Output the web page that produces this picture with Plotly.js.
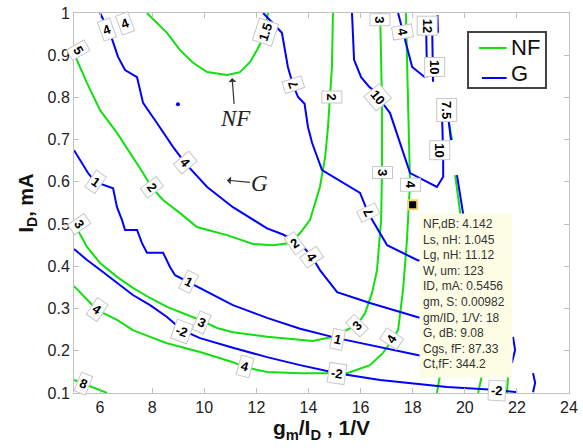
<!DOCTYPE html>
<html><head><meta charset="utf-8">
<script src="https://cdn.plot.ly/plotly-3.0.1.min.js"></script>
<style>html,body{margin:0;padding:0;background:#fff}#chart{width:583px;height:448px}</style>
</head><body><div id="chart"></div>
<script>
// ---------- NF contour lines (green) ----------
const nf15X=[7.80,8.57,9.07,9.57,10.11,10.87,11.37,11.76,12.02,12.22,12.45];
const nf15Y=[1.0,0.953,0.912,0.882,0.860,0.853,0.860,0.884,0.912,0.936,1.0];
const nf2X=[5.00,5.08,5.50,6.00,6.65,7.26,7.65,7.99,8.42,9.07,9.72,10.87,11.87,12.64,13.29,13.68,14.06,14.44,14.64,14.75,14.83,14.90,14.94];
const nf2Y=[0.912,0.893,0.834,0.770,0.716,0.659,0.621,0.586,0.557,0.526,0.493,0.474,0.453,0.450,0.455,0.479,0.510,0.588,0.659,0.730,0.794,0.872,1.0];
const nf3X=[5.00,5.50,6.00,6.65,7.26,7.92,8.57,9.34,9.84,10.49,11.10,12.41,13.68,14.17,14.94,15.48,15.86,16.17,16.44,16.63,16.71,16.79,16.82,16.82,16.75];
const nf3Y=[0.502,0.446,0.408,0.375,0.349,0.325,0.304,0.285,0.273,0.254,0.244,0.233,0.225,0.223,0.233,0.249,0.261,0.289,0.337,0.391,0.446,0.510,0.621,0.794,1.0];
const nf4X=[5.00,5.50,5.88,6.65,7.26,7.92,8.57,9.84,11.10,11.56,12.41,13.68,15.48,16.36,16.86,17.21,17.44,17.63,17.78,17.86,17.90,17.82,17.74];
const nf4Y=[0.353,0.320,0.297,0.273,0.249,0.233,0.218,0.197,0.173,0.161,0.150,0.147,0.147,0.166,0.195,0.225,0.249,0.344,0.462,0.557,0.593,0.794,1.0];
const nf8X=[5.00,6.27];
const nf8Y=[0.131,0.100];
const nfR1X=[19.40,19.51];
const nfR1Y=[0.739,0.699];
const nfR2X=[19.63,19.82,19.90];
const nfR2Y=[0.616,0.529,0.450];
const nfB1X=[19.10,18.93];
const nfB1Y=[0.160,0.100];
const nfB2X=[20.72,20.51];
const nfB2Y=[0.160,0.100];
const nfB3X=[21.68,21.62];
const nfB3Y=[0.160,0.100];

// ---------- G contour lines (blue) ----------
const g4X=[6.00,6.38,6.69,6.96,7.42,7.65,8.19,8.80,9.26,10.11,11.10,12.41,13.00,13.68,14.14,14.44,15.10,16.36,18.17,18.50];
const g4Y=[1.0,0.953,0.896,0.865,0.848,0.787,0.739,0.683,0.645,0.588,0.540,0.490,0.476,0.455,0.422,0.391,0.339,0.313,0.280,0.275];
const g4tX=[7.00,7.05];
const g4tY=[1.0,0.988];
const g1X=[5.00,5.54,5.81,6.50,6.65,6.84,6.96,7.42,7.61,7.80,8.42,8.69,8.88,9.38,9.84,11.10,12.41,13.68,15.10,18.17,18.50];
const g1Y=[0.675,0.621,0.600,0.585,0.540,0.510,0.486,0.486,0.455,0.432,0.432,0.398,0.379,0.363,0.349,0.308,0.278,0.252,0.230,0.190,0.186];
const gm2X=[5.00,5.50,6.00,6.65,7.26,7.92,8.57,9.15,9.84,11.10,12.41,13.68,15.10,16.75,19.32,21.24,22.01];
const gm2Y=[0.441,0.415,0.392,0.360,0.332,0.308,0.280,0.249,0.230,0.207,0.185,0.166,0.147,0.131,0.114,0.107,0.102];
const g7X=[12.26,12.98,13.21,13.41,13.60,13.85,13.98,14.14,14.52,15.98,16.29,16.63,17.02,18.17,18.50];
const g7Y=[1.0,0.953,0.872,0.829,0.801,0.785,0.730,0.692,0.628,0.574,0.526,0.491,0.450,0.415,0.410];
const g10X=[15.67,15.75,16.02,16.33,16.48,16.67,17.13,17.51,17.90,18.93,19.17,19.17,19.13];
const g10Y=[1.0,0.889,0.848,0.825,0.818,0.801,0.763,0.692,0.621,0.588,0.612,0.659,0.754];
const gTopX=[17.44,17.63,17.98,18.47];
const gTopY=[1.0,0.953,0.872,0.848];
const g12aX=[18.52,18.55];
const g12aY=[0.955,0.848];
const g12bX=[18.75,18.78];
const g12bY=[0.955,0.837];
const g12cX=[18.95,18.97];
const g12cY=[0.995,0.953];
const g75X=[19.36,19.47];
const g75Y=[0.754,0.699];
const gR2X=[19.70,19.93,20.00];
const gR2Y=[0.616,0.529,0.500];
const gP1X=[21.85,21.93,21.81];
const gP1Y=[0.233,0.202,0.171];
const gP2X=[22.62,22.70,22.62];
const gP2Y=[0.147,0.124,0.102];
const gDotX=[8.99];
const gDotY=[0.784];

// ---------- contour labels ----------
const nfLabText=["1.5","2","2","2","3","3","3","3","3","4","4","4","4","4","8","5"];
const nfLabX=[12.33,14.90,7.99,13.45,5.22,9.90,15.86,16.75,16.86,5.88,11.56,17.21,17.90,17.63,5.35,5.18];
const nfLabY=[0.955,0.800,0.586,0.455,0.500,0.266,0.261,0.985,0.621,0.297,0.162,0.228,0.593,0.955,0.123,0.912];
const nfLabA=[-72,90,53,-35,55,23,-45,90,90,34,15,-57,90,80,22,60];

const gLabText=["4","4","1","4","1","-2","4","1","-2","-2","7","7","10","12","10","7.5","10"];
const gLabX=[6.27,6.96,5.81,9.26,9.38,9.15,14.14,15.13,15.10,21.24,13.41,16.29,16.67,18.55,18.86,19.32,19.05];
const gLabY=[0.960,0.976,0.600,0.645,0.363,0.246,0.422,0.226,0.147,0.106,0.829,0.526,0.801,0.970,0.872,0.770,0.675];
const gLabA=[-20,-20,35,50,27,20,56,12,8,3,-108,-116,50,90,90,90,90];

// ---------- data tip ----------
const tipX=[18];
const tipY=[0.5456];
const tipLines=["NF,dB: 4.142","Ls, nH: 1.045","Lg, nH: 11.12","W, um: 123","ID, mA: 0.5456","gm, S: 0.00982","gm/ID, 1/V: 18","G, dB: 9.08","Cgs, fF: 87.33","Ct,fF: 344.2"];

// ---------- axes / legend ----------
const xTicks=[6,8,10,12,14,16,18,20,22,24];
const yTicks=[0.1,0.2,0.3,0.4,0.5,0.6,0.7,0.8,0.9,1];
const yTickText=["0.1","0.2","0.3","0.4","0.5","0.6","0.7","0.8","0.9","1"];
const legendNames=["NF","G"];

const GREEN='#10e010', BLUE='#0000ff';
const nfLines=[[nf15X,nf15Y],[nf2X,nf2Y],[nf3X,nf3Y],[nf4X,nf4Y],[nf8X,nf8Y],[nfR1X,nfR1Y],[nfR2X,nfR2Y],[nfB1X,nfB1Y],[nfB2X,nfB2Y],[nfB3X,nfB3Y]];
const gLines=[[g4X,g4Y],[g4tX,g4tY],[g1X,g1Y],[gm2X,gm2Y],[g7X,g7Y],[g10X,g10Y],[gTopX,gTopY],[g12aX,g12aY],[g12bX,g12bY],[g12cX,g12cY],[g75X,g75Y],[gR2X,gR2Y],[gP1X,gP1Y],[gP2X,gP2Y]];

const traces=[];
nfLines.forEach((l)=>traces.push({x:l[0],y:l[1],mode:'lines',type:'scatter',name:legendNames[0],showlegend:false,line:{color:GREEN,width:2},hoverinfo:'skip'}));
gLines.forEach((l)=>traces.push({x:l[0],y:l[1],mode:'lines',type:'scatter',name:legendNames[1],showlegend:false,line:{color:BLUE,width:2},hoverinfo:'skip'}));
traces.push({x:gDotX,y:gDotY,mode:'markers',type:'scatter',showlegend:false,marker:{color:BLUE,size:4},hoverinfo:'skip'});
traces.push({x:tipX,y:tipY,mode:'markers',type:'scatter',showlegend:false,marker:{symbol:'square',color:'#000',size:9,line:{color:'#f2d27a',width:2}},hoverinfo:'skip'});

const ann=[];
function lab(t,x,y,a){ann.push({x:x,y:y,text:t,textangle:a,showarrow:false,bgcolor:'#ffffff',bordercolor:'#c8c8c8',borderwidth:1,borderpad:2,font:{family:'Liberation Sans, Arial',size:13,color:'#000',weight:'bold'}});}
nfLabText.forEach((t,i)=>lab(t,nfLabX[i],nfLabY[i],nfLabA[i]));
gLabText.forEach((t,i)=>lab(t,gLabX[i],gLabY[i],gLabA[i]));

// hand annotations (text with pointer arrow)
ann.push({x:11.07,y:0.846,ax:3,ay:40,text:'<i>NF</i>',showarrow:true,arrowhead:1,arrowsize:1.1,arrowwidth:1.2,arrowcolor:'#333',standoff:0,font:{family:'Liberation Serif, Times New Roman',size:23,color:'#222'}});
ann.push({x:10.87,y:0.604,ax:33,ay:3,text:'<i>G</i>',showarrow:true,arrowhead:1,arrowsize:1.1,arrowwidth:1.2,arrowcolor:'#333',standoff:0,font:{family:'Liberation Serif, Times New Roman',size:23,color:'#222'}});

// data tip box
ann.push({x:tipX[0],y:tipY[0],xanchor:'left',yanchor:'top',xshift:6,yshift:-8,text:tipLines.join('<br>'),showarrow:false,align:'left',valign:'top',width:86,height:157,borderpad:3,bgcolor:'#fdfde6',bordercolor:'rgba(0,0,0,0)',font:{family:'Liberation Sans, Arial',size:12,color:'#333'}});

// legend (box, sample lines, names)
const shapes=[
  {type:'rect',xref:'paper',yref:'paper',x0:0.796,x1:0.9535,y0:0.8026,y1:0.95,line:{color:'#444',width:2},fillcolor:'#fff',layer:'above'},
  {type:'line',xref:'paper',yref:'paper',x0:0.818,x1:0.874,y0:0.908,y1:0.908,line:{color:GREEN,width:2},layer:'above'},
  {type:'line',xref:'paper',yref:'paper',x0:0.824,x1:0.874,y0:0.829,y1:0.829,line:{color:BLUE,width:2},layer:'above'}
];
ann.push({xref:'paper',yref:'paper',x:0.879,y:0.909,xanchor:'left',yanchor:'middle',text:legendNames[0],showarrow:false,font:{family:'Liberation Sans, Arial',size:22,color:'#111'}});
ann.push({xref:'paper',yref:'paper',x:0.879,y:0.842,xanchor:'left',yanchor:'middle',text:legendNames[1],showarrow:false,font:{family:'Liberation Sans, Arial',size:22,color:'#111'}});

const layout={
  width:583,height:448,
  margin:{l:74,r:14,t:13,b:55},
  paper_bgcolor:'#fff',plot_bgcolor:'#fff',
  showlegend:false,
  font:{family:'Liberation Sans, Arial',color:'#222'},
  xaxis:{range:[5,24],tickvals:xTicks,ticks:'inside',ticklen:5,tickcolor:'#c0c0c0',showline:true,linecolor:'#c0c0c0',linewidth:1,mirror:'ticks',showgrid:false,zeroline:false,tickfont:{size:16,color:'#222'},
    title:{text:'<b>g<sub>m</sub>/I<sub>D</sub> , 1/V</b>',font:{size:21,color:'#111'},standoff:0}},
  yaxis:{range:[0.1,1],tickvals:yTicks,ticktext:yTickText,ticks:'inside',ticklen:5,tickcolor:'#c0c0c0',showline:true,linecolor:'#c0c0c0',linewidth:1,mirror:'ticks',showgrid:false,zeroline:false,tickfont:{size:16,color:'#222'},
    title:{text:'<b>I<sub>D</sub>, mA</b>',font:{size:20,color:'#111'},standoff:8}},
  shapes:shapes,
  annotations:ann
};
Plotly.newPlot('chart',traces,layout,{staticPlot:true});
</script></body></html>
